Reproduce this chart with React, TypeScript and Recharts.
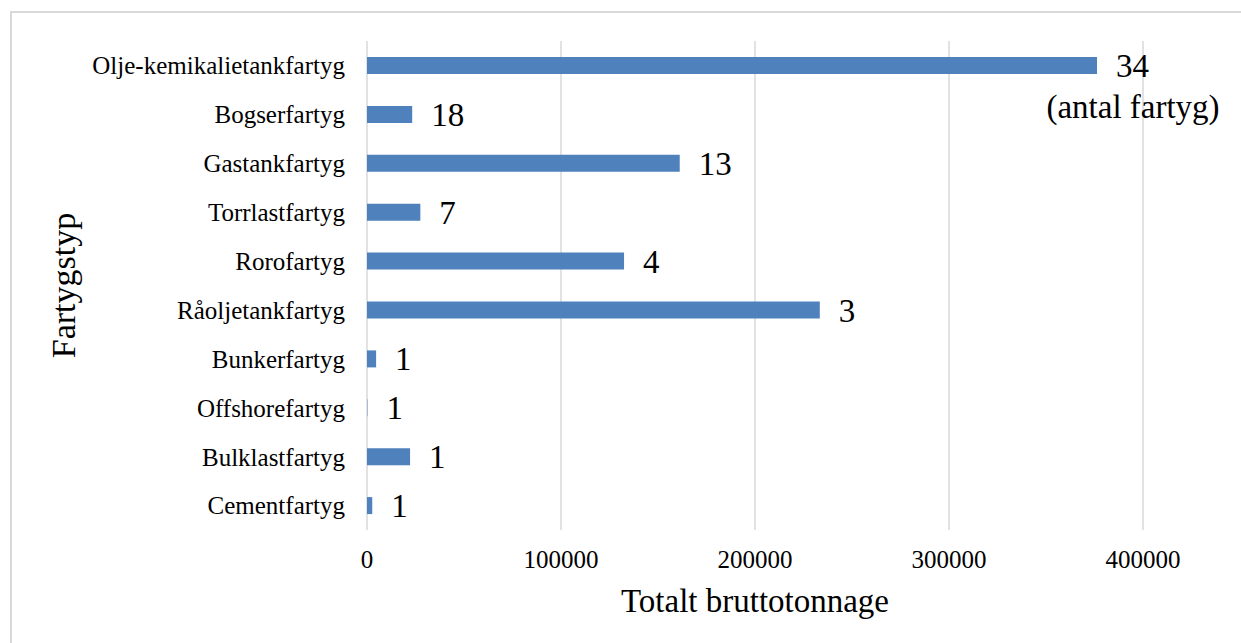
import React from 'react';
import { Bar, BarChart, CartesianGrid, LabelList, XAxis, YAxis } from 'recharts';

// fartygstyper, uppifrån och ner
const categories = [
  'Olje-kemikalietankfartyg',
  'Bogserfartyg',
  'Gastankfartyg',
  'Torrlastfartyg',
  'Rorofartyg',
  'Råoljetankfartyg',
  'Bunkerfartyg',
  'Offshorefartyg',
  'Bulklastfartyg',
  'Cementfartyg',
];

// totalt bruttotonnage per typ
const tonnage = [376300, 23300, 161200, 27500, 132500, 233400, 4700, 200, 22200, 2700];

// antal fartyg (etiketter)
const antal = [34, 18, 13, 7, 4, 3, 1, 1, 1, 1];

const xTicks = [0, 100000, 200000, 300000, 400000];

const data = categories.map((typ, i) => ({ typ, tonnage: tonnage[i], antal: antal[i] }));

const FONT = '"Liberation Serif", "Times New Roman", serif';

const CountLabel = (props: any) => {
  const vb = props.viewBox || props;
  const { x, y, width, height } = vb;
  const tx = x + width + 19;
  const cy = y + height / 2;
  return (
    <g>
      <text x={tx} y={cy} dy="0.35em" fontSize={33} fontFamily={FONT} fill="#000">
        {props.value}
      </text>
      {props.index === 0 && (
        <text x={tx + 17} y={cy + 52} textAnchor="middle" fontSize={33} fontFamily={FONT} fill="#000">
          (antal fartyg)
        </text>
      )}
    </g>
  );
};

const YTitle = (props: any) => {
  const vb = props.viewBox;
  const cy = vb.y + vb.height / 2;
  return (
    <text x={63} y={cy} transform={`rotate(-90, 63, ${cy})`} dy="0.35em" textAnchor="middle" fontSize={34} fontFamily={FONT} fill="#000">
      Fartygstyp
    </text>
  );
};

export default function App() {
  return (
    <div style={{ position: 'fixed', inset: 0, overflow: 'hidden', background: '#fff' }}>
      <div
        style={{
          position: 'absolute',
          left: 10,
          top: 11,
          width: 1300,
          height: 700,
          border: '2px solid #d9d9d9',
        }}
      />
      <div style={{ position: 'absolute', left: 0, top: 0 }}>
        <BarChart
          width={1241}
          height={643}
          data={data}
          layout="vertical"
          margin={{ top: 41, right: 98, bottom: 0, left: 0 }}
        >
          <CartesianGrid horizontal={false} stroke="#d9d9d9" strokeWidth={1.5} />
          <XAxis
            type="number"
            domain={[0, 400000]}
            ticks={xTicks}
            height={113}
            axisLine={false}
            tickLine={false}
            tickSize={0}
            tickMargin={20}
            tick={{ fontSize: 25, fontFamily: FONT, fill: '#000' }}
            label={{ value: 'Totalt bruttotonnage', position: 'insideBottom', offset: 31, fontSize: 33, fontFamily: FONT, fill: '#000' }}
          />
          <YAxis
            type="category"
            dataKey="typ"
            width={367}
            axisLine={false}
            tickLine={false}
            tickSize={0}
            tickMargin={22}
            interval={0}
            tick={{ fontSize: 25, fontFamily: FONT, fill: '#000' }}
            label={{ content: YTitle }}
          />
          <Bar dataKey="tonnage" fill="#4f81bd" barSize={17} isAnimationActive={false}>
            <LabelList dataKey="antal" content={CountLabel} />
          </Bar>
        </BarChart>
      </div>
    </div>
  );
}
